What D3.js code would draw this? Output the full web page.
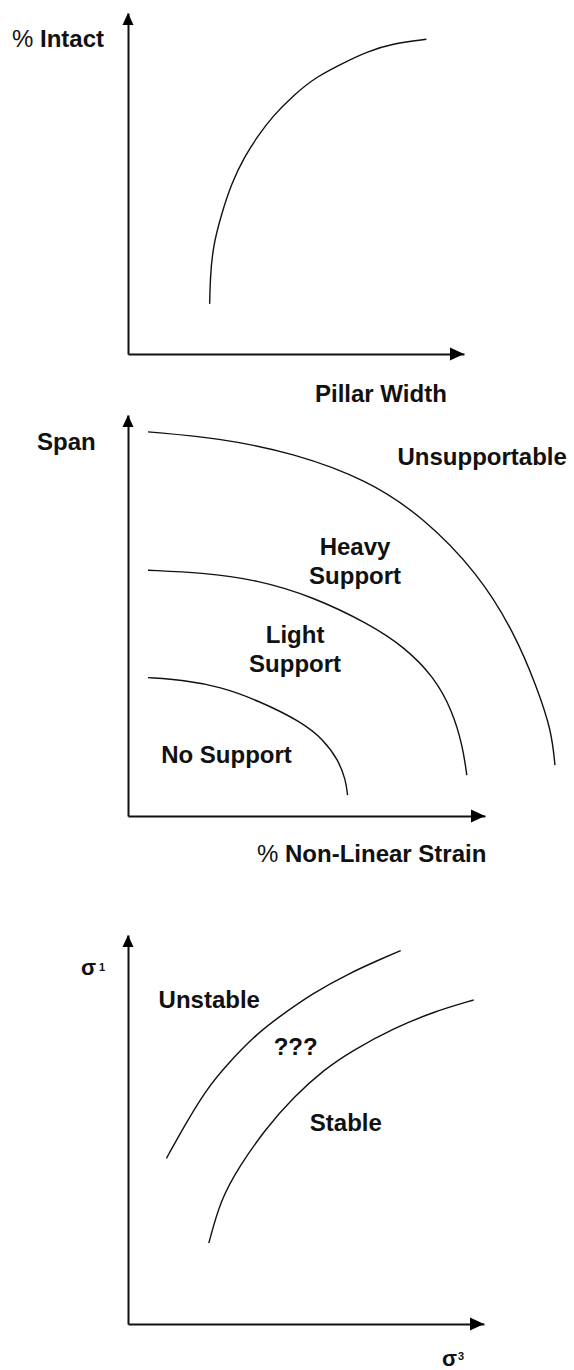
<!DOCTYPE html>
<html>
<head>
<meta charset="utf-8">
<script src="https://cdn.jsdelivr.net/npm/d3@7/dist/d3.min.js"></script>
<style>
  html, body { margin: 0; padding: 0; background: #fff; }
  svg { display: block; }
  text { font-family: "Liberation Sans", Arial, Helvetica, sans-serif; font-weight: bold; fill: #111; }
</style>
</head>
<body>
<script>
// ---------- DATA (in each panel's 0-100 data units) ----------
// Panel 1: % Intact vs Pillar Width
const intactCurve = [[24.3,14.7],[24.5,22.7],[25.3,31.5],[27.6,40.3],[30.8,50.1],[34.7,57.9],[38.5,63.7],[42.9,69.6],[49.4,76.0],[56.0,81.3],[64.8,85.7],[71.3,88.7],[79.0,91.1],[88.8,92.3]];
// Panel 2: Span vs % Non-Linear Strain (support-class boundaries)
const unsupportableCurve = [[5.6,95.8],[25.9,94.2],[46.5,90.5],[67.1,83.8],[82.6,74.6],[98.0,60.6],[108.3,45.6],[114.5,32.2],[118.6,21.4],[119.6,12.7]];
const heavySupportCurve  = [[5.6,61.3],[20.7,60.7],[36.2,58.9],[51.7,54.7],[67.1,48.1],[77.4,42.2],[85.7,34.7],[90.8,26.4],[93.8,17.3],[94.9,10.2]];
const lightSupportCurve  = [[5.6,34.5],[15.6,33.9],[25.9,32.2],[36.2,28.9],[48.6,23.5],[54.8,19.0],[58.9,14.0],[61.0,9.0],[61.5,5.2]];
// Panel 3: sigma1 vs sigma3
const unstableCurve = [[10.8,42.6],[15.7,50.7],[21.9,60.2],[28.1,67.0],[36.3,74.7],[42.5,79.0],[51.8,85.0],[62.2,90.2],[71.5,94.0],[76.6,96.0]];
const stableCurve   = [[22.7,20.8],[26.0,31.9],[31.2,40.4],[38.4,49.9],[46.6,58.4],[54.9,65.3],[63.2,70.4],[74.6,76.0],[85.9,80.3],[97.1,83.3]];

// Axis titles
const panel1Titles = ["% Intact", "Pillar Width"];
const panel2Titles = ["Span", "% Non-Linear Strain"];
const panel3Titles = ["σ", "1", "σ", "3"];

// Region labels [text, x, y] in data units
const panel2Labels = [["Unsupportable",75.5,87.6],["Heavy",63.6,65.0],["Support",63.6,57.8],["Light",46.8,43.1],["Support",46.8,35.9],["No Support",27.6,13.2]];
const panel3Labels = [["Unstable",8.6,81.3],["???",47.1,69.2],["Stable",61.2,49.6]];

// ---------- LAYOUT ----------
const W = 574, H = 1370;
const svg = d3.select("body").append("svg").attr("width", W).attr("height", H);

const panelLayouts = [
  { x0: 128, x1: 464, y0: 354, y1: 13 },
  { x0: 128, x1: 485, y0: 816, y1: 415 },
  { x0: 128, x1: 484, y0: 1324, y1: 935 }
];

function makePanel(layout) {
  const g = svg.append("g");
  const x = d3.scaleLinear().domain([0, 100]).range([layout.x0, layout.x1]);
  const y = d3.scaleLinear().domain([0, 100]).range([layout.y0, layout.y1]);
  g.append("g").attr("transform", `translate(0,${layout.y0})`)
    .call(d3.axisBottom(x).tickValues([]).tickSizeOuter(0))
    .call(s => s.select(".domain").attr("stroke", "#111").attr("stroke-width", 2));
  g.append("g").attr("transform", `translate(${layout.x0},0)`)
    .call(d3.axisLeft(y).tickValues([]).tickSizeOuter(0))
    .call(s => s.select(".domain").attr("stroke", "#111").attr("stroke-width", 2));
  const xt = x(100), yt = y(100);
  g.append("path").attr("d", `M${xt},${layout.y0} L${xt-14},${layout.y0-6.5} L${xt-14},${layout.y0+6.5} Z`).attr("fill", "#000");
  g.append("path").attr("d", `M${layout.x0},${yt} L${layout.x0-5.5},${yt+12} L${layout.x0+5.5},${yt+12} Z`).attr("fill", "#000");
  return { g, x, y };
}

const line = (p) => d3.line().x(d => p.x(d[0])).y(d => p.y(d[1])).curve(d3.curveBasis);
function drawCurve(p, data) {
  p.g.append("path").datum(data).attr("d", line(p)).attr("fill", "none")
    .attr("stroke", "#111").attr("stroke-width", 1.4);
}
function pctTitle(sel, str) {
  if (str.startsWith("%")) {
    sel.append("tspan").attr("font-weight", "normal").text("%");
    sel.append("tspan").text(str.slice(1));
  } else sel.text(str);
}

// Panel 1
const p1 = makePanel(panelLayouts[0]);
drawCurve(p1, intactCurve);
p1.g.append("text").attr("x", 12).attr("y", 47).attr("font-size", 24).call(pctTitle, panel1Titles[0]);
p1.g.append("text").attr("x", 315).attr("y", 402).attr("font-size", 24).text(panel1Titles[1]);

// Panel 2
const p2 = makePanel(panelLayouts[1]);
[unsupportableCurve, heavySupportCurve, lightSupportCurve].forEach(c => drawCurve(p2, c));
p2.g.append("text").attr("x", 37).attr("y", 450).attr("font-size", 24).text(panel2Titles[0]);
p2.g.append("text").attr("x", 257).attr("y", 862).attr("font-size", 24).call(pctTitle, panel2Titles[1]);
p2.g.selectAll("text.region").data(panel2Labels).join("text").attr("class", "region")
  .attr("x", d => p2.x(d[1])).attr("y", d => p2.y(d[2])).attr("font-size", 24)
  .attr("text-anchor", d => d[0] === "Unsupportable" ? "start" : "middle").text(d => d[0]);

// Panel 3
const p3 = makePanel(panelLayouts[2]);
[unstableCurve, stableCurve].forEach(c => drawCurve(p3, c));
p3.g.append("text").attr("x", 81).attr("y", 975).attr("font-size", 22).text(panel3Titles[0]);
p3.g.append("text").attr("x", 99).attr("y", 971).attr("font-size", 11).attr("font-weight", "normal").text(panel3Titles[1]);
p3.g.append("text").attr("x", 442).attr("y", 1366).attr("font-size", 22).text(panel3Titles[2]);
p3.g.append("text").attr("x", 458).attr("y", 1360).attr("font-size", 11).attr("font-weight", "normal").text(panel3Titles[3]);
p3.g.selectAll("text.region").data(panel3Labels).join("text").attr("class", "region")
  .attr("x", d => p3.x(d[1])).attr("y", d => p3.y(d[2])).attr("font-size", 24)
  .attr("text-anchor", d => d[0] === "Unstable" ? "start" : "middle").text(d => d[0]);
</script>
</body>
</html>
